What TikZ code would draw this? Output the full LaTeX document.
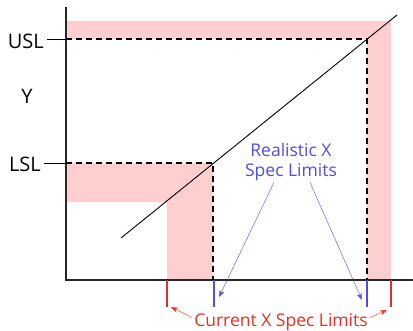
\documentclass[tikz,border=0pt]{standalone}
\usepackage{fontspec}
\setmainfont{Open Sans}
\usetikzlibrary{arrows.meta, positioning, calc}
\definecolor{specred}{RGB}{228, 48, 32}
\definecolor{specblue}{RGB}{78, 78, 228}
\definecolor{bandpink}{RGB}{255, 206, 206}

\begin{document}
\begin{tikzpicture}[
            x=1pt, y=-1pt,
            band/.style={fill=bandpink, draw=none},
            axis/.style={line width=1.1pt, black!85},
            guide/.style={dashed, dash pattern=on 6pt off 4pt, line width=1.1pt, black},
            limlabel/.style={inner sep=0pt, anchor=base east, font=\fontsize{20}{24}\selectfont},
            bluetext/.style={inner sep=0pt, anchor=base, align=center, text=specblue, font=\fontsize{17.5}{20}\selectfont},
            redtext/.style={inner sep=0pt, anchor=base, text=specred, font=\fontsize{17.5}{20}\selectfont},
            bluetick/.style={line width=1.4pt, specblue},
            redtick/.style={line width=1.4pt, specred},
            bluearrow/.style={-{Stealth[length=7pt, width=5pt]}, thin, specblue},
            redarrow/.style={-{Stealth[length=7pt, width=5pt]}, thin, specred}
        ]
            \useasboundingbox (0,0) rectangle (413,331);

            % Key points
            \coordinate (origin) at (66,280);
            \coordinate (ytop) at (66,7);
            \coordinate (xend) at (413,280);
            \coordinate (uslY) at (66,39);
            \coordinate (lslY) at (66,163);
            \coordinate (uslhit) at (367,39);
            \coordinate (lslhit) at (213,163);
            \coordinate (fitstart) at (121,238);
            \coordinate (fitend) at (397,15);

            % Tolerance bands
            \fill[band] (66,21) rectangle (391,39);
            \fill[band] (367,21) rectangle (391,280);
            \fill[band] (66,163) rectangle (213,202);
            \fill[band] (167,163) rectangle (213,280);

            % Axes
            \draw[axis] (ytop) -- (origin) -- (xend);

            % Spec limits on Y
            \node[limlabel] (usl) at (44,49) {USL};
            \node[limlabel] (lsl) at (41,172) {LSL};
            \node[inner sep=0pt, anchor=base, font=\fontsize{20}{24}\selectfont] (ylabel) at (27,104) {Y};
            \draw[thick] (usl.east |- uslY) ++(3,0) -- (uslY);
            \draw[thick] (lsl.east |- lslY) ++(3,0) -- (lslY);

            % Transfer line and projections
            \draw[line width=0.9pt] (fitstart) -- (fitend);
            \draw[guide] (uslY) -- (uslhit) -- (uslhit |- origin);
            \draw[guide] (lslY) -- (lslhit) -- (lslhit |- origin);

            % X limit ticks
            \coordinate (curlo) at (167,307);
            \coordinate (curhi) at (391,307);
            \coordinate (reallo) at (214,307);
            \coordinate (realhi) at (367,307);
            \draw[redtick] (curlo |- origin) -- (curlo);
            \draw[redtick] (curhi |- origin) -- (curhi);
            \draw[bluetick] (reallo |- origin) -- (reallo);
            \draw[bluetick] (realhi |- origin) -- (realhi);

            % Labels
            \node[bluetext] (realistic) at (291,177) {Realistic X\\Spec Limits};
            \node[redtext] (current) at (281,327) {Current X Spec Limits};

            \draw[bluearrow] ($(realistic.south)+(-17,1)$) -- ($(reallo)+(5,-10)$);
            \draw[bluearrow] ($(realistic.south)+(19,1)$) -- ($(realhi)+(-5,-7)$);
            \draw[redarrow] ($(current.west)+(-2,-5)$) -- ($(curlo)+(4,0)$);
            \draw[redarrow] ($(current.east)+(2,-5)$) -- ($(curhi)+(-4,3)$);

        \end{tikzpicture}
\end{document}
